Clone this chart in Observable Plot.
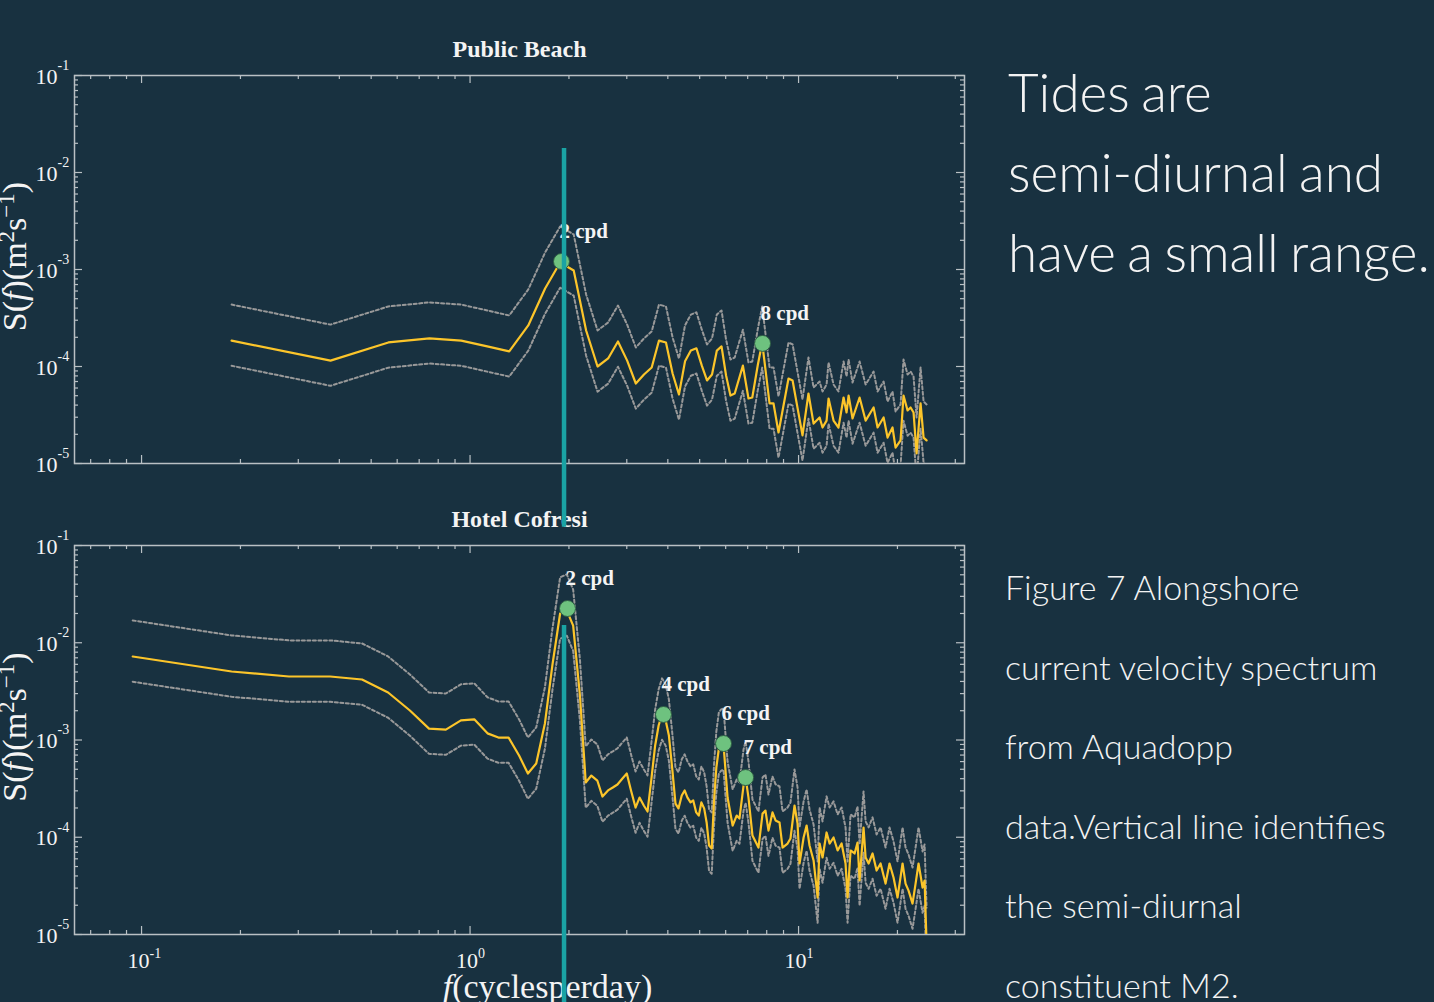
<!DOCTYPE html>
<html><head><meta charset="utf-8">
<script src="https://cdn.jsdelivr.net/npm/d3@7"></script>
<script src="https://cdn.jsdelivr.net/npm/@observablehq/plot@0.6"></script>
<style>
html,body{margin:0;padding:0;background:#183140;width:1434px;height:1002px;overflow:hidden;}
#top{position:absolute;left:0;top:0;width:980px;z-index:2;}
#bottom{position:absolute;left:0;top:490px;width:980px;z-index:1;}
.headline{position:absolute;left:1008px;top:52px;font-family:Lato,sans-serif;font-weight:300;font-size:53px;word-spacing:-3px;line-height:80px;color:#f3f3f3;white-space:nowrap;}
.caption{position:absolute;left:1005px;top:547px;font-family:Lato,sans-serif;font-weight:300;font-size:34px;line-height:79.6px;color:#f3f3f3;white-space:nowrap;}
</style></head>
<body>
<div id="top"></div>
<div id="bottom"></div>
<div class="headline">Tides are<br>semi-diurnal and<br>have a small range.</div>
<div class="caption">Figure 7 Alongshore<br>current velocity spectrum<br>from Aquadopp<br>data.Vertical line identifies<br>the semi-diurnal<br>constituent M2.</div>
<script>
// ---------- data ----------
const publicBeachFreq = [0.188,0.376,0.564,0.752,0.94,1.128,1.316,1.504,1.692,1.88,
  2.068,2.256,2.444,2.632,2.82,3.008,3.196,3.384,3.572,3.76,
  3.948,4.136,4.324,4.512,4.70,4.888,5.076,5.264,5.452,5.64,
  5.828,6.016,6.204,6.392,6.77,7.04,7.23,7.52,7.75,8.16,
  8.39,8.69,9.32,9.59,10.28,10.72,11.11,11.59,11.83,12.17,
  12.34,12.78,13.23,13.71,14.00,14.20,14.60,15.34,16.00,16.92,
  17.40,18.15,18.66,19.32,19.74,20.44,20.87,21.47,21.93,22.39,
  22.87,23.52,24.02,24.53];
const publicBeachS = [1.85e-4,1.15e-4,1.77e-4,1.95e-4,1.85e-4,1.61e-4,1.43e-4,2.65e-4,6.37e-4,1.18e-3,
  9.77e-4,2.35e-4,1.0e-4,1.21e-4,1.81e-4,1.15e-4,6.68e-5,8.28e-5,9.77e-5,1.85e-4,
  1.77e-4,8.47e-5,5.14e-5,1.13e-4,1.46e-4,1.54e-4,1.02e-4,7.18e-5,8.28e-5,1.46e-4,
  1.61e-4,8.07e-5,5.02e-5,5.27e-5,1.02e-4,4.68e-5,4.79e-5,1.05e-4,1.77e-4,4.16e-5,
  4.16e-5,2.09e-5,7.52e-5,7.18e-5,1.95e-5,5.27e-5,2.58e-5,2.98e-5,2.35e-5,2.77e-5,
  4.68e-5,2.77e-5,2.35e-5,4.79e-5,3.36e-5,5.02e-5,2.91e-5,4.79e-5,2.77e-5,3.78e-5,
  2.35e-5,2.98e-5,1.85e-5,2.35e-5,1.46e-5,1.73e-5,5.02e-5,3.52e-5,3.78e-5,3.36e-5,
  1.27e-5,4.16e-5,1.85e-5,1.73e-5];

const hotelFreq = [0.094,0.188,0.281,0.375,0.469,0.563,0.656,0.75,0.844,0.938,
  1.03,1.13,1.22,1.31,1.41,1.5,1.59,1.69,1.78,1.88,
  1.97,2.06,2.16,2.25,2.34,2.44,2.53,2.63,2.72,2.81,
  2.91,3.0,3.09,3.19,3.28,3.38,3.47,3.56,3.66,3.75,
  3.84,3.94,4.03,4.13,4.22,4.31,4.41,4.5,4.59,4.69,
  4.78,4.88,4.97,5.06,5.16,5.25,5.34,5.44,5.53,5.62,
  5.72,5.81,5.91,6.08,6.30,6.48,6.61,6.80,6.90,7.04,
  7.24,7.55,7.77,7.93,8.10,8.33,8.51,8.75,8.94,9.26,
  9.45,9.72,9.93,10.07,10.36,10.58,10.80,11.11,11.43,11.59,
  11.83,12.17,12.43,12.78,13.15,13.52,13.90,14.10,14.40,14.81,
  15.12,15.34,15.77,16.00,16.34,16.80,17.28,17.77,18.40,18.92,
  19.46,20.01,20.73,21.17,21.62,22.23,22.71,23.19,23.85,24.19,
  24.53];
const hotelS = [7.22e-3,5.06e-3,4.50e-3,4.50e-3,4.19e-3,3.08e-3,2.01e-3,1.31e-3,1.28e-3,1.59e-3,
  1.63e-3,1.17e-3,1.06e-3,1.06e-3,6.93e-4,4.52e-4,5.73e-4,1.48e-3,5.83e-3,2.0e-2,
  2.15e-2,1.50e-2,2.87e-3,3.66e-4,4.31e-4,3.83e-4,2.62e-4,3.03e-4,3.25e-4,3.49e-4,
  4.02e-4,4.52e-4,3.03e-4,2.02e-4,2.56e-4,2.12e-4,1.84e-4,3.83e-4,8.78e-4,1.41e-3,
  1.83e-3,1.59e-3,1.11e-3,4.86e-4,2.22e-4,1.98e-4,2.69e-4,3.03e-4,2.56e-4,2.28e-4,
  2.39e-4,1.80e-4,1.67e-4,2.28e-4,1.98e-4,1.42e-4,8.22e-5,7.66e-5,2.39e-4,5.21e-4,
  8.18e-4,8.78e-4,8.99e-4,2.56e-4,1.32e-4,1.67e-4,1.56e-4,3.40e-4,4.11e-4,2.56e-4,
  1.04e-4,7.84e-5,1.75e-4,1.88e-4,1.17e-4,1.80e-4,1.49e-4,1.42e-4,7.84e-5,8.62e-5,
  9.71e-5,2.12e-4,1.38e-4,5.37e-5,9.94e-5,1.32e-4,8.22e-5,5.77e-5,2.40e-5,8.62e-5,
  6.19e-5,1.12e-4,8.62e-5,9.94e-5,7.31e-5,8.62e-5,5.37e-5,2.40e-5,7.31e-5,6.81e-5,
  8.83e-5,3.59e-5,1.26e-4,6.19e-5,5.37e-5,6.81e-5,4.55e-5,5.37e-5,3.34e-5,5.37e-5,
  3.86e-5,2.40e-5,5.37e-5,3.34e-5,2.83e-5,2.08e-5,3.34e-5,5.37e-5,3.04e-5,3.59e-5,
  8.0e-6];

// confidence-interval factors read from the gap between the dashed bounds and the estimate
const ciUpperFactor = 2.35;
const ciLowerFactor = 0.55;

const publicBeachPeakFreq = [1.898, 7.77];
const publicBeachPeakS = [1.21e-3, 1.73e-4];
const publicBeachPeakLabels = ["2 cpd", "8 cpd"];
const hotelPeakFreq = [1.98, 3.88, 5.91, 6.90];
const hotelPeakS = [2.25e-2, 1.83e-3, 9.2e-4, 4.11e-4];
const hotelPeakLabels = ["2 cpd", "4 cpd", "6 cpd", "7 cpd"];

const m2Freq = 1.9323;
const panelTitles = ["Public Beach", "Hotel Cofresi"];
const yLabel = "S(f)(m²s⁻¹)";
const xLabel = "f(cyclesperday)";
const xMajorTicks = [0.1, 1, 10];
const xMinorTicks = [0.07,0.08,0.09,0.2,0.3,0.4,0.5,0.6,0.7,0.8,0.9,2,3,4,5,6,7,8,9,20,30];
const yMajorTicks = [1e-5,1e-4,1e-3,1e-2,1e-1];
const yMinorTicks = [1e-5,1e-4,1e-3,1e-2].flatMap(d => [2,3,4,5,6,7,8,9].map(k => k*d));

// ---------- styling ----------
const frameColor = "#b9c0c4";
const lineColor = "#fcc52a";
const ciColor = "#999999";
const tealColor = "#1aa3a4";
const dotFill = "#6ec27f";
const dotStroke = "#2d5b44";
const textColor = "#f4f4f4";
const serif = "'Liberation Serif','Times New Roman',serif";

function panel({title, freq, S, peakF, peakS, peakL, height, marginTop, marginBottom, ruleTop, ruleBottom, xLabels}) {
  const rows = freq.map((f, i) => ({f, S: S[i], hi: S[i]*ciUpperFactor, lo: S[i]*ciLowerFactor}));
  const peaks = peakF.map((f, i) => ({f, S: peakS[i], label: peakL[i]}));
  const width = 980, marginLeft = 74, marginRight = 16;
  const H = height - marginTop - marginBottom;
  const W = width - marginLeft - marginRight;
  const ts = {stroke: frameColor, strokeWidth: 1.2};
  const marks = [
    Plot.tickX(xMajorTicks, {x: d => d, insetBottom: H - 8, ...ts}),
    Plot.tickX(xMajorTicks, {x: d => d, insetTop: H - 8, ...ts}),
    Plot.tickX(xMinorTicks, {x: d => d, insetBottom: H - 4, ...ts}),
    Plot.tickX(xMinorTicks, {x: d => d, insetTop: H - 4, ...ts}),
    Plot.tickY(yMajorTicks, {y: d => d, insetRight: W - 8, ...ts}),
    Plot.tickY(yMajorTicks, {y: d => d, insetLeft: W - 8, ...ts}),
    Plot.tickY(yMinorTicks, {y: d => d, insetRight: W - 4, ...ts}),
    Plot.tickY(yMinorTicks, {y: d => d, insetLeft: W - 4, ...ts}),
    Plot.frame({stroke: frameColor, strokeWidth: 1.5}),
    Plot.line(rows, {x: "f", y: "hi", stroke: ciColor, strokeWidth: 2, strokeDasharray: "3,2.5", clip: true}),
    Plot.line(rows, {x: "f", y: "lo", stroke: ciColor, strokeWidth: 2, strokeDasharray: "3,2.5", clip: true}),
    Plot.line(rows, {x: "f", y: "S", stroke: lineColor, strokeWidth: 2.2, clip: true}),
    Plot.dot(peaks, {x: "f", y: "S", r: 8, fill: dotFill, stroke: dotStroke, strokeWidth: 1}),
    Plot.text(peaks, {x: "f", y: "S", text: "label", textAnchor: "start", lineAnchor: "middle", dx: -2, dy: -30, fontSize: 21, fontWeight: "bold", fill: textColor}),
    Plot.text([title], {frameAnchor: "top", lineAnchor: "middle", dy: -26, fontSize: 24, fontWeight: "bold", fill: textColor}),
    Plot.text(yMajorTicks, {y: d => d, frameAnchor: "left", text: () => "10", textAnchor: "end", lineAnchor: "middle", dx: -17, dy: 1, fontSize: 22, fill: textColor}),
    Plot.text(yMajorTicks, {y: d => d, frameAnchor: "left", text: d => String(Math.round(Math.log10(d))), textAnchor: "start", lineAnchor: "middle", dx: -17, dy: -10, fontSize: 14, fill: textColor}),
    Plot.text([yLabel], {frameAnchor: "left", rotate: -90, textAnchor: "middle", lineAnchor: "middle", dx: -59, dy: -13, fontSize: 34, fill: textColor})
  ];
  if (xLabels) {
    marks.push(
      Plot.text(xMajorTicks, {x: d => d, frameAnchor: "bottom", text: () => "10", textAnchor: "end", lineAnchor: "middle", dx: 8, dy: 26, fontSize: 22, fill: textColor}),
      Plot.text(xMajorTicks, {x: d => d, frameAnchor: "bottom", text: d => String(Math.round(Math.log10(d))), textAnchor: "start", lineAnchor: "middle", dx: 8, dy: 19, fontSize: 14, fill: textColor}),
      Plot.text([xLabel], {frameAnchor: "bottom", textAnchor: "middle", lineAnchor: "middle", dx: 28, dy: 53, fontSize: 34, fill: textColor})
    );
  }
  marks.push(Plot.ruleX([m2Freq], {x: d => d, y1: ruleTop, y2: ruleBottom, stroke: tealColor, strokeWidth: 4.5}));
  const svg = Plot.plot({
    width, height, marginLeft, marginRight, marginTop, marginBottom,
    style: {background: "transparent", color: textColor, fontFamily: serif, overflow: "visible"},
    x: {type: "log", domain: [0.0625, 32], axis: null},
    y: {type: "log", domain: [1e-5, 1e-1], axis: null},
    marks
  });
  const sel = d3.select(svg);
  sel.selectAll("text, tspan").filter(function() { return this.children.length === 0 && this.textContent === yLabel; })
    .html('S(<tspan font-style="italic">f</tspan>)(m<tspan dy="-12" font-size="23">2</tspan><tspan dy="12">s</tspan><tspan dy="-12" font-size="23">−1</tspan><tspan dy="12">)</tspan>');
  sel.selectAll("text, tspan").filter(function() { return this.children.length === 0 && this.textContent === xLabel; })
    .html('<tspan font-style="italic">f</tspan>(cyclesperday)');
  return svg;
}

document.getElementById("top").append(panel({
  title: panelTitles[0], freq: publicBeachFreq, S: publicBeachS,
  peakF: publicBeachPeakFreq, peakS: publicBeachPeakS, peakL: publicBeachPeakLabels,
  height: 530, marginTop: 75, marginBottom: 67, ruleTop: 0.0177, ruleBottom: 2.2e-6, xLabels: false
}));
document.getElementById("bottom").append(panel({
  title: panelTitles[1], freq: hotelFreq, S: hotelS,
  peakF: hotelPeakFreq, peakS: hotelPeakS, peakL: hotelPeakLabels,
  height: 512, marginTop: 55, marginBottom: 68, ruleTop: 0.01503, ruleBottom: 1.5e-6, xLabels: true
}));
</script>
</body></html>
